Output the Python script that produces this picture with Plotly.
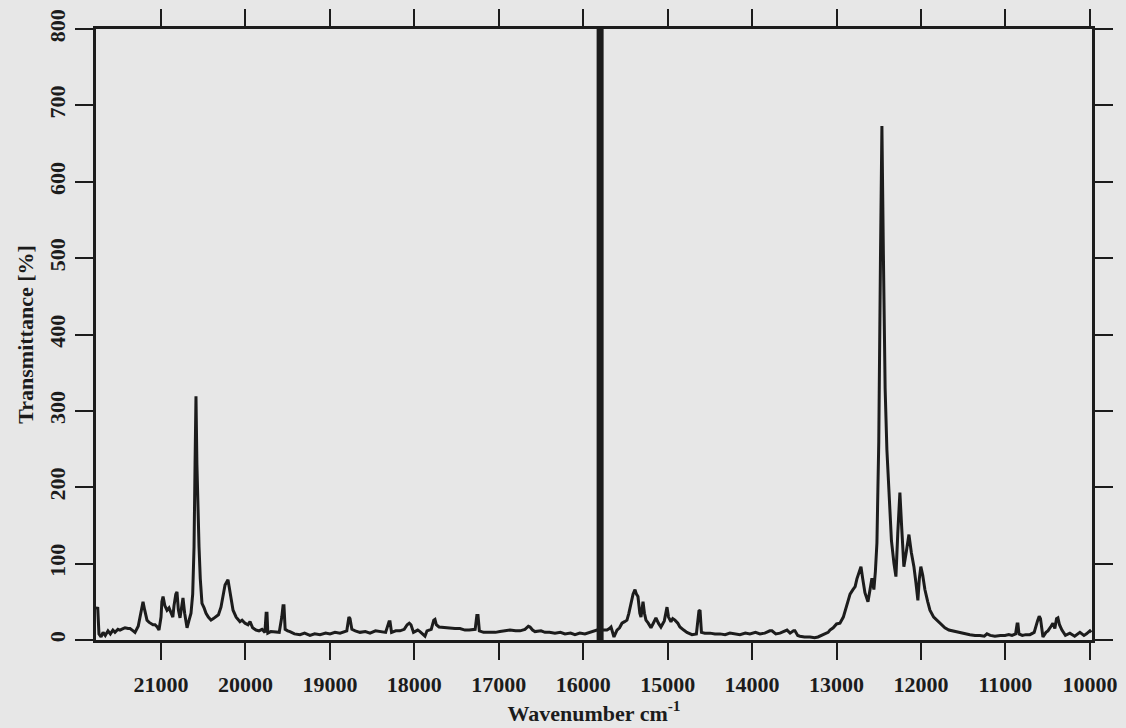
import plotly.graph_objects as go

# Raman-type spectrum: wavenumber (cm^-1) vs. transmittance (%)
wavenumber = [
    21765, 21750, 21735, 21710, 21686, 21660, 21628, 21600, 21570, 21545,
    21510, 21486, 21450, 21427, 21390, 21367, 21330, 21308, 21270, 21249,
    21225, 21213, 21195, 21166, 21140, 21119, 21095, 21071, 21045, 21024,
    21000, 20990, 20976, 20955, 20929, 20905, 20882, 20860, 20846, 20825,
    20811, 20795, 20775, 20758, 20740, 20720, 20692, 20670, 20645, 20625,
    20609, 20597, 20586, 20575, 20563, 20550, 20535, 20515, 20490, 20467,
    20440, 20408, 20380, 20349, 20320, 20290, 20265, 20242, 20207, 20185,
    20165, 20147, 20110, 20065, 20040, 20005, 19970, 19946, 19915, 19875,
    19840, 19804, 19770, 19755, 19745, 19735, 19700, 19650, 19600, 19570,
    19555, 19544, 19530, 19500, 19473, 19420, 19354, 19300, 19236, 19180,
    19117, 19050, 18999, 18940, 18880, 18800, 18775, 18762, 18740, 18700,
    18644, 18580, 18525, 18460, 18407, 18340, 18300, 18288, 18270, 18220,
    18170, 18120, 18085, 18060, 18040, 18010, 17960, 17933, 17874, 17850,
    17800, 17770, 17756, 17740, 17708, 17637, 17580, 17519, 17460, 17400,
    17350, 17280, 17260, 17246, 17230, 17180, 17104, 17040, 16986, 16920,
    16867, 16800, 16749, 16690, 16650, 16630, 16600, 16571, 16500, 16453,
    16400, 16335, 16270, 16216, 16150, 16098, 16040, 15980, 15920, 15870,
    15837, 15800, 15760, 15719, 15690, 15671, 15636, 15600, 15570, 15541,
    15510, 15482, 15460, 15435, 15410, 15387, 15370, 15352, 15330, 15316,
    15300, 15292, 15275, 15257, 15230, 15198, 15170, 15139, 15110, 15080,
    15040, 15020, 15008, 14990, 14961, 14940, 14914, 14880, 14855, 14810,
    14772, 14712, 14660, 14630, 14617, 14600, 14560, 14499, 14440, 14381,
    14320, 14263, 14200, 14144, 14080, 14026, 13960, 13907, 13850, 13790,
    13765, 13720, 13670, 13620, 13587, 13550, 13510, 13493, 13460, 13434,
    13380, 13315, 13260, 13220, 13180, 13138, 13100, 13078, 13040, 13000,
    12960, 12920, 12877, 12840, 12806, 12780, 12759, 12730, 12711, 12690,
    12664, 12628, 12605, 12581, 12558, 12540, 12522, 12500, 12480, 12463,
    12445, 12425, 12404, 12380, 12350, 12320, 12297, 12275, 12250, 12230,
    12203, 12175, 12143, 12115, 12084, 12060, 12037, 12020, 12002, 11980,
    11954, 11920, 11894, 11850, 11811, 11760, 11717, 11670, 11634, 11590,
    11539, 11480, 11421, 11360, 11302, 11250, 11219, 11180, 11125, 11060,
    11006, 10960, 10923, 10880, 10862, 10852, 10840, 10800, 10760, 10710,
    10660, 10620, 10600, 10585, 10556, 10520, 10497, 10460, 10438, 10415,
    10395, 10379, 10360, 10331, 10290, 10237, 10180, 10118, 10070, 10040,
    10000, 9985,
]

transmittance = [
    40, 43, 8, 4, 10, 6, 12, 8, 13, 10,
    14, 13, 15, 16, 15, 15, 12, 10, 18, 30,
    48, 50, 40, 26, 23, 22, 20, 20, 17, 13,
    30, 50, 57, 45, 39, 42, 35, 30, 45, 60,
    63, 40, 29, 45, 55, 35, 16, 25, 35, 60,
    122, 230, 319, 230, 150, 122, 80, 48, 42, 35,
    30, 26, 28, 30, 33, 43, 60, 72, 79, 62,
    48, 39, 30, 24, 26, 22, 20, 24, 16, 13,
    12, 14, 10, 35, 35, 9, 11, 10, 10, 30,
    45, 45, 14, 12, 11, 8, 7, 9, 6, 8,
    7, 9, 8, 10, 9, 12, 30, 28, 14, 12,
    10, 11, 9, 12, 11, 10, 24, 24, 10, 12,
    12, 14, 20, 22, 20, 10, 13, 11, 5, 12,
    14, 26, 27, 20, 17, 16, 16, 15, 15, 13,
    13, 14, 32, 32, 12, 10, 10, 10, 11, 12,
    13, 12, 12, 14, 18, 17, 13, 11, 12, 10,
    10, 9, 10, 8, 9, 7, 9, 8, 10, 12,
    13, 13, 13, 13, 15, 17, 4, 13, 16, 22,
    24, 26, 35, 48, 60, 66, 60, 57, 35, 30,
    48, 50, 35, 26, 22, 16, 22, 29, 22, 17,
    25, 40, 43, 30, 24, 28, 26, 22, 17, 13,
    10, 7, 8, 38, 39, 10, 9, 9, 8, 8,
    7, 9, 8, 7, 9, 8, 10, 8, 9, 12,
    12, 8, 9, 11, 13, 9, 12, 12, 6, 5,
    4, 4, 3, 4, 6, 8, 10, 13, 16, 21,
    22, 30, 45, 60, 66, 70, 80, 90, 96, 80,
    62, 50, 65, 81, 66, 90, 127, 260, 500, 673,
    500, 330, 249, 190, 130, 100, 83, 140, 193, 150,
    96, 115, 138, 115, 96, 75, 52, 80, 96, 85,
    66, 50, 39, 30, 26, 20, 16, 13, 12, 11,
    10, 8, 7, 6, 6, 5, 8, 6, 5, 6,
    6, 7, 6, 8, 21, 21, 8, 6, 7, 7,
    10, 25, 31, 28, 4, 10, 12, 18, 22, 15,
    28, 29, 20, 13, 6, 9, 5, 10, 6, 8,
    12, 10,
]

# Excitation (laser) line position and the full-height marker drawn there
laser_line = 15800
y_max = 800

x_ticks = list(range(10000, 22000, 1000))
y_ticks = list(range(0, 900, 100))

ink = "#1c1c1c"
paper = "#e7e7e7"
serif_bold = dict(family="Liberation Serif", size=22, color=ink, weight="bold")

fig = go.Figure()

fig.add_trace(go.Scatter(
    x=[laser_line, laser_line], y=[0, y_max],
    mode="lines", line=dict(color=ink, width=7),
    hoverinfo="skip", showlegend=False,
))

fig.add_trace(go.Scatter(
    x=wavenumber, y=transmittance,
    mode="lines", line=dict(color=ink, width=3),
    showlegend=False,
))

fig.update_layout(
    width=1126, height=728,
    margin=dict(l=96, r=34, t=29, b=88),
    paper_bgcolor=paper, plot_bgcolor=paper,
    font=dict(family="Liberation Serif", color=ink),
)

fig.update_xaxes(
    range=[21770, 9975], automargin=False,
    tickvals=x_ticks, ticktext=[str(v) for v in x_ticks],
    ticks="outside", ticklen=17, tickwidth=2, tickcolor=ink,
    showline=True, linewidth=3, linecolor=ink, mirror="ticks",
    showgrid=False, zeroline=False,
    tickfont=serif_bold, ticklabelstandoff=6,
    title=dict(text="Wavenumber cm<sup>-1</sup>", font=serif_bold, standoff=0),
)

fig.update_yaxes(
    range=[0, y_max], automargin=False,
    tickvals=y_ticks, ticktext=[str(v) for v in y_ticks],
    ticks="outside", ticklen=18, tickwidth=2, tickcolor=ink,
    showline=True, linewidth=3, linecolor=ink, mirror="ticks",
    showgrid=False, zeroline=False,
    tickangle=-90, tickfont=serif_bold, ticklabelstandoff=1,
    title=dict(text="Transmittance [%]", font=serif_bold, standoff=6),
)

fig.write_html("out.html")
